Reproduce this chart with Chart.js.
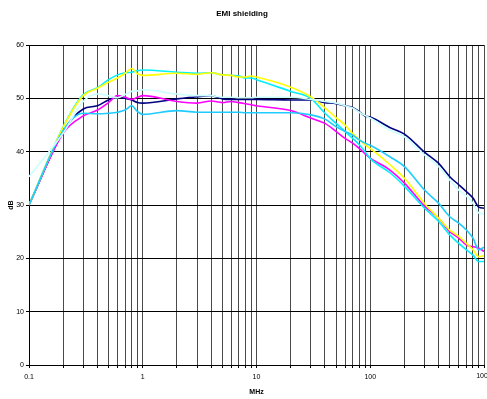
<!DOCTYPE html>
<html>
<head>
<meta charset="utf-8">
<script src="https://cdn.jsdelivr.net/npm/chart.js@4"></script>
<style>
html,body{margin:0;padding:0;background:#fff;}
#wrap{width:487px;height:399px;}
</style>
</head>
<body>
<div id="wrap"><canvas id="c" width="487" height="399"></canvas></div>
<script>
const freqs = [0.1,0.2,0.3,0.4,0.5,0.6,0.7,0.8,0.9,1,2,3,4,5,6,7,8,9,10,20,30,40,50,60,70,80,90,100,150,200,300,400,500,600,700,800,900,1000];

const navy = [30,43.8,48,48.6,49.7,50.2,50,49.7,49.2,49.1,49.9,50.3,50.5,49.9,49.8,49.8,49.8,49.8,49.8,49.7,49.7,49.2,49.0,48.6,48.3,47.5,46.7,46.5,44.5,43.3,39.9,37.8,35.3,33.8,32.5,31.3,29.6,29.4];
const yellow = [30,44.6,50.5,51.9,53,53.8,54.7,55.6,54.6,54.3,54.7,54.5,54.8,54.4,54.3,54.0,54.0,54.2,54.0,52.1,50.3,48.2,46.4,45.0,43.4,42.3,41.3,40.6,37.5,35.0,30.3,27.5,25.3,24.1,22.8,21.6,20.3,20.5];
const cyan = [30,44.7,50.7,52,53.5,54.4,54.8,54.9,55.2,55.3,54.9,54.7,54.8,54.4,54.3,54.2,53.8,53.8,53.5,51.3,50.0,47.2,45.3,43.8,42.5,41.3,40.0,38.7,36.0,33.5,29.4,26.9,24.4,22.8,21.6,20.6,19.4,19.4];
const lightCyan = [35.3,43.5,49.4,50.8,50.5,50.1,50.7,51.3,51.4,51.6,50.8,50.5,50.5,50.2,50.2,50.1,50.1,50.1,50.2,50.2,49.8,49.4,49.1,48.6,48.2,47.4,46.8,46.3,44.0,42.8,39.4,37.2,34.7,32.8,31.7,30.3,28.5,28.3];
const magenta = [30,43.5,46.7,47.8,49.2,50.5,50.2,49.8,50.2,50.5,49.4,49.1,49.5,49.2,49.4,49.2,49.0,48.8,48.6,47.7,46.3,45.3,43.8,42.5,41.6,40.6,39.6,38.8,36.5,34.1,29.8,27.5,25.0,23.8,22.5,22.2,21.9,21.3];
const skyBlue = [30,44,47.2,47.1,47.2,47.4,47.8,48.6,47.5,47.0,47.7,47.4,47.4,47.4,47.4,47.4,47.3,47.3,47.3,47.3,46.9,46.1,44.7,43.8,43.1,42.2,41.6,41.2,39.0,37.2,32.8,30.3,27.8,26.6,25.3,23.8,21.6,22.1];

const gridTicks = [0.1,0.2,0.3,0.4,0.5,0.6,0.7,0.8,0.9,1,2,3,4,5,6,7,8,9,10,20,30,40,50,60,70,80,90,100,200,300,400,500,600,700,800,900,1000];
const labelTicks = [0.1,1,10,100];
const edgeLabel = 1000;
const yTicks = [0,10,20,30,40,50,60];

function pts(arr){ return freqs.map((f,i)=>({x:f,y:arr[i]})); }
function ds(label, arr, color){
  return {label, data:pts(arr), borderColor:color, backgroundColor:color, borderWidth:1.6,
          pointRadius:0, fill:false, cubicInterpolationMode:'monotone'};
}

const FONT = "'Liberation Sans', Arial, sans-serif";

const edgeLabelPlugin = {
  id:'edgeLabel',
  afterDraw(chart){
    const sx = chart.scales.x;
    const ctx = chart.ctx;
    ctx.save();
    ctx.font = "7px " + FONT;
    ctx.fillStyle = '#000';
    ctx.textAlign = 'center';
    ctx.textBaseline = 'top';
    ctx.fillText(String(edgeLabel), sx.getPixelForValue(edgeLabel), sx.top + 3 + 5);
    ctx.restore();
  }
};

new Chart(document.getElementById('c'), {
  type:'line',
  data:{datasets:[
    ds('Light cyan', lightCyan, '#CCFFFF'),
    ds('Sky blue', skyBlue, '#1ECCFF'),
    ds('Yellow', yellow, '#FFFF00'),
    ds('Cyan', cyan, '#00F0FF'),
    ds('Magenta', magenta, '#FF00FF'),
    ds('Navy', navy, '#000080')
  ]},
  plugins:[edgeLabelPlugin],
  options:{
    responsive:false,
    animation:false,
    devicePixelRatio:1,
    layout:{padding:{left:0,right:3,top:0,bottom:0}, autoPadding:false},
    plugins:{
      legend:{display:false},
      tooltip:{enabled:false},
      title:{display:true, text:'EMI shielding', color:'#000',
             font:{family:FONT, size:8, weight:'bold'}, padding:{top:9,bottom:26.4}}
    },
    scales:{
      x:{
        type:'logarithmic', min:0.1, max:1000,
        afterBuildTicks:(s)=>{ s.ticks = gridTicks.map(v=>({value:v})); },
        afterFit:(s)=>{ s.height = 34; s.paddingRight = 0; },
        ticks:{autoSkip:false, maxRotation:0, minRotation:0, padding:5, color:'#000',
               font:{family:FONT,size:7},
               callback:(v)=> labelTicks.includes(v) ? String(v) : ''},
        grid:{color:'#4a4a4a', lineWidth:1, drawTicks:true, tickLength:3, tickColor:'#000'},
        border:{color:'#000', width:1},
        title:{display:true, text:'MHz', color:'#000', font:{family:FONT,size:7,weight:'bold'}, padding:{top:0,bottom:3}}
      },
      y:{
        min:0, max:60,
        afterBuildTicks:(s)=>{ s.ticks = yTicks.map(v=>({value:v})); },
        afterFit:(s)=>{ s.width = 29; },
        ticks:{padding:2, color:'#000', font:{family:FONT,size:7}},
        grid:{color:'#000', lineWidth:1, drawTicks:true, tickLength:3, tickColor:'#000'},
        border:{color:'#000', width:1},
        title:{display:true, text:'dB', color:'#000', font:{family:FONT,size:7,weight:'bold'}, padding:{top:7,bottom:0}}
      }
    }
  }
});
</script>
</body>
</html>
